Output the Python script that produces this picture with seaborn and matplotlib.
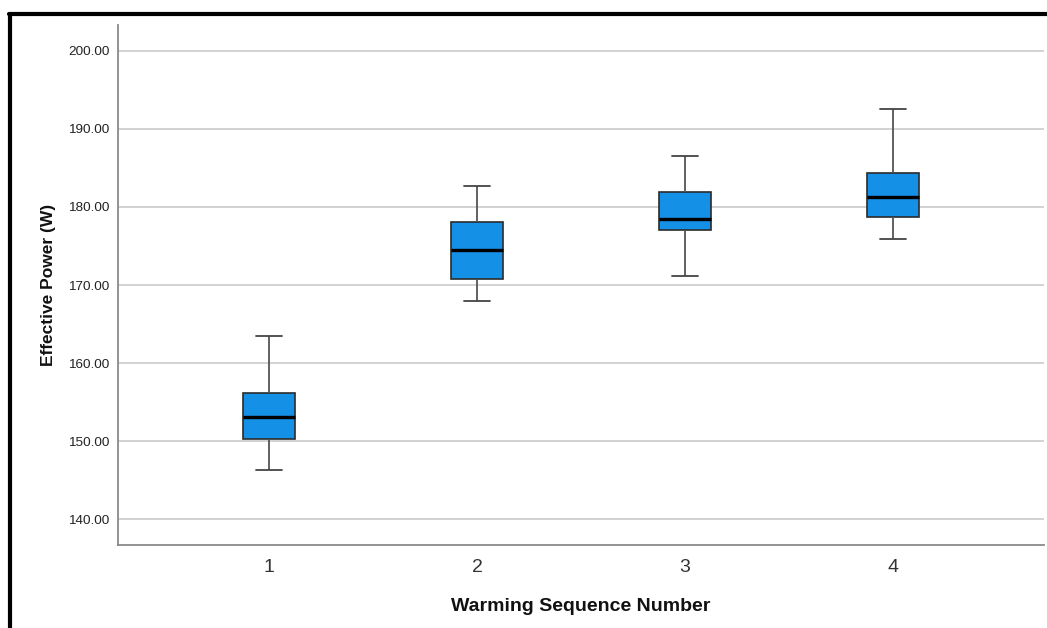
import numpy as np
import pandas as pd
import matplotlib
matplotlib.use("Agg")
import matplotlib.pyplot as plt
import seaborn as sns
from matplotlib.lines import Line2D

# Five-number summaries (min, Q1, median, Q3, max)
sequences = ["1", "2", "3", "4"]
mins = [146.3, 167.9, 171.1, 175.9]
q1s = [150.3, 170.8, 177.0, 178.7]
medians = [153.1, 174.5, 178.5, 181.3]
q3s = [156.1, 178.1, 181.9, 184.4]
maxs = [163.5, 182.7, 186.6, 192.6]
y_ticks = [140, 150, 160, 170, 180, 190, 200]

# one row per value; with five points the quartiles land exactly on them
rows = []
for seq, a, b, c, d, e in zip(sequences, mins, q1s, medians, q3s, maxs):
    for v in (a, b, c, d, e):
        rows.append({"seq": seq, "power": v})
df = pd.DataFrame(rows)

sns.set_style("white")
plt.rcParams["font.family"] = ["Liberation Sans", "DejaVu Sans"]

fig = plt.figure(figsize=(10.47, 6.28), dpi=100)
ax = fig.add_axes([118 / 1047, 1 - 545 / 628, (1044 - 118) / 1047, (545 - 25) / 628])

sns.boxplot(
    data=df, x="seq", y="power", order=sequences, ax=ax,
    whis=(0, 100), width=0.25, color="#1490e6", saturation=1,
    showfliers=False,
    boxprops=dict(edgecolor="#2b2b2b", linewidth=1.2),
    medianprops=dict(color="black", linewidth=2.4),
    whiskerprops=dict(color="#555555", linewidth=1.3),
    capprops=dict(color="#444444", linewidth=1.3),
)

ax.set_xlim(-0.725, 3.725)
ax.set_ylim(136.67, 203.33)
ax.set_yticks(y_ticks)
ax.set_yticklabels([f"{t:.2f}" for t in y_ticks])
ax.yaxis.grid(True, color="#d2d2d2", linewidth=1.4)
ax.set_axisbelow(True)

for side in ("top", "right"):
    ax.spines[side].set_visible(False)
for side in ("left", "bottom"):
    ax.spines[side].set_color("#8a8a8a")
    ax.spines[side].set_linewidth(1.3)

ax.tick_params(axis="y", length=0, pad=6, labelsize=9.7, labelcolor="#222222")
ax.tick_params(axis="x", length=0, pad=10, labelsize=14, labelcolor="#333333")

ax.set_xlabel("Warming Sequence Number", fontsize=14, fontweight="bold",
              labelpad=16, color="#111111")
ax.set_ylabel("Effective Power (W)", fontsize=12.5, fontweight="bold",
              labelpad=9, color="#111111")

# black frame along the left and top edges (rest is cropped in the original)
fig.add_artist(Line2D([10 / 1047, 10 / 1047], [0, 1 - 14 / 628],
                      color="black", linewidth=3, transform=fig.transFigure))
fig.add_artist(Line2D([8.5 / 1047, 1], [1 - 14 / 628, 1 - 14 / 628],
                      color="black", linewidth=3, transform=fig.transFigure))

fig.savefig("out.png", dpi=100)
